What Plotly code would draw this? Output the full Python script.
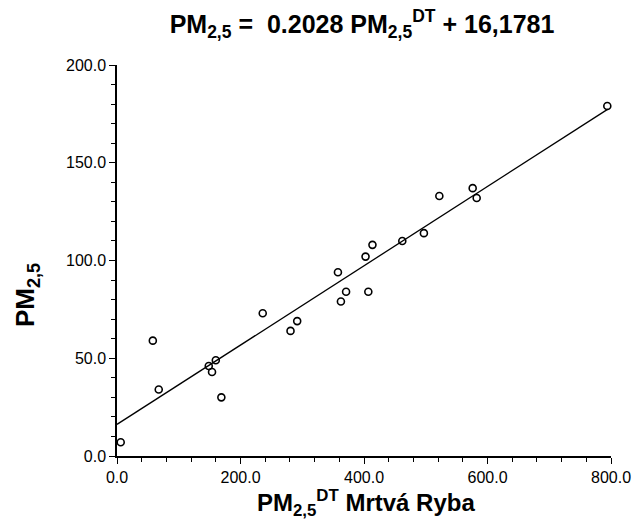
import plotly.graph_objects as go

# Data
pm_dt = [6, 58, 67.6, 148.6, 153.9, 160, 169, 236, 281, 291.8, 357.8, 362.6, 371,
         402.5, 407, 413.7, 462, 497, 522, 576, 582.5, 794]
pm25 = [7, 59, 34, 46, 43, 49, 30, 73, 64, 69, 94, 79, 84,
        102, 84, 108, 110, 114, 133, 137, 132, 179]

slope = 0.2028
intercept = 16.1781
line_x = [0, 795]
line_y = [slope * v + intercept for v in line_x]

x_ticks = [0, 200, 400, 600, 800]
y_ticks = [0, 50, 100, 150, 200]

title_text = "<b>PM<sub>2,5</sub> =  0.2028 PM<sub>2,5</sub><sup>DT</sup> + 16,1781</b>"
x_title = "<b>PM<sub>2,5</sub><sup>DT</sup> Mrtvá Ryba</b>"
y_title = "<b>PM<sub>2,5</sub></b>"

fig = go.Figure()
fig.add_trace(go.Scatter(x=line_x, y=line_y, mode="lines",
                         line=dict(color="black", width=1.3), showlegend=False))
fig.add_trace(go.Scatter(x=pm_dt, y=pm25, mode="markers",
                         marker=dict(symbol="circle-open", size=7, color="black",
                                     line=dict(width=1.6, color="black")),
                         showlegend=False, cliponaxis=False))

font_family = "Liberation Sans, Arial, sans-serif"
fig.update_layout(
    width=643, height=519,
    margin=dict(l=117, r=26, t=65, b=63),
    paper_bgcolor="white", plot_bgcolor="white",
    font=dict(family=font_family, color="black"),
    title=dict(text=title_text,
               x=362 / 643, xanchor="center", y=1 - 24 / 519, yanchor="middle",
               font=dict(size=25, family=font_family, color="black")),
    xaxis=dict(range=[0, 800], tickvals=x_ticks,
               ticktext=[f"{v:.1f}" for v in x_ticks],
               showgrid=False, zeroline=False, showline=True, linecolor="black", linewidth=1.5,
               ticks="outside", ticklen=6, tickwidth=1.3, tickcolor="black",
               minor=dict(dtick=40, ticks="outside", ticklen=4, tickwidth=1.2, tickcolor="black"),
               tickfont=dict(size=16, family=font_family)),
    yaxis=dict(range=[0, 200], tickvals=y_ticks,
               ticktext=[f"{v:.1f}" for v in y_ticks],
               showgrid=False, zeroline=False, showline=True, linecolor="black", linewidth=1.5,
               ticks="outside", ticklen=6, tickwidth=1.3, tickcolor="black",
               minor=dict(dtick=10, ticks="outside", ticklen=4, tickwidth=1.2, tickcolor="black"),
               tickfont=dict(size=16, family=font_family)),
    annotations=[
        dict(text=x_title, xref="paper", yref="paper", x=(369 - 117) / 500, y=(456 - 503) / 391,
             xanchor="center", yanchor="middle", showarrow=False,
             font=dict(size=24, family=font_family, color="black")),
        dict(text=y_title, xref="paper", yref="paper", x=(25 - 117) / 500, y=(456 - 295) / 391,
             xanchor="center", yanchor="middle", showarrow=False, textangle=-90,
             font=dict(size=26, family=font_family, color="black")),
    ],
)

fig.write_html("out.html")
